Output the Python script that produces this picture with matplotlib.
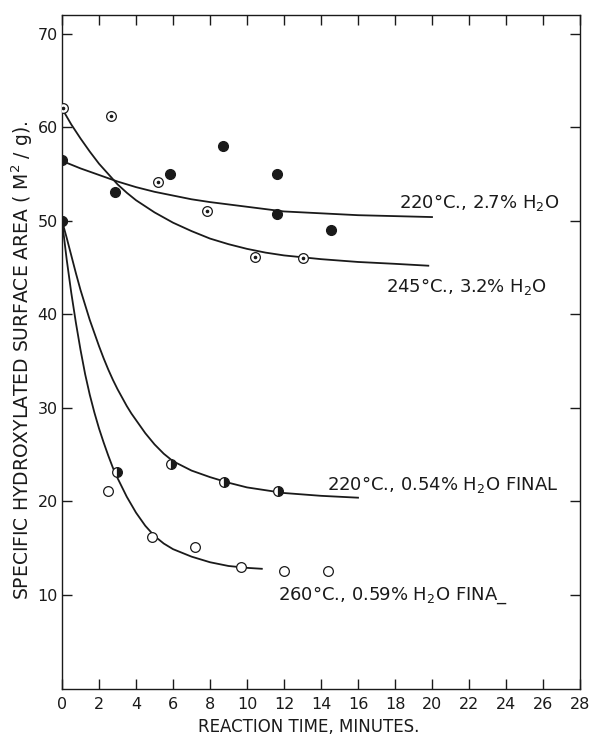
import matplotlib.pyplot as plt

# ========================= DATOS =========================
# puntos medidos: tiempo (min) y area especifica (m2/g)
t_220_27 = [0.0, 2.87, 5.82, 8.71, 11.64, 11.64, 14.53]
a_220_27 = [56.5, 53.1, 55.0, 58.0, 55.0, 50.7, 49.0]

t_245_32 = [0.04, 2.64, 5.19, 7.84, 10.41, 13.05]
a_245_32 = [62.1, 61.2, 54.2, 51.0, 46.1, 46.0]

t_220_054 = [0.0, 2.96, 5.89, 8.74, 11.67]
a_220_054 = [50.0, 23.2, 24.0, 22.1, 21.1]

t_260_059 = [0.0, 2.46, 4.86, 7.17, 9.65, 11.99, 14.38]
a_260_059 = [50.0, 21.1, 16.2, 15.1, 13.0, 12.6, 12.6]

# curvas suavizadas trazadas en la figura
ct_220_27 = [0, 1, 2, 3, 4, 5, 6, 7, 8, 10, 12, 14, 16, 18, 20]
ca_220_27 = [56.4, 55.6, 54.9, 54.2, 53.6, 53.1, 52.7, 52.3, 52.0, 51.5, 51.0, 50.8, 50.6, 50.5, 50.4]

ct_245_32 = [0, 0.5, 1, 1.5, 2, 2.5, 3, 3.5, 4, 5, 6, 7, 8, 9, 10, 11, 12, 14, 16, 18, 19.8]
ca_245_32 = [62.0, 60.3, 58.8, 57.4, 56.1, 55.0, 53.9, 53.0, 52.2, 50.9, 49.8, 48.9, 48.1,
             47.5, 47.0, 46.6, 46.3, 45.9, 45.6, 45.4, 45.2]

ct_220_054 = [0, 0.25, 0.5, 0.75, 1, 1.25, 1.5, 1.75, 2, 2.25, 2.5, 2.75, 3, 3.25, 3.5,
              3.75, 4, 4.5, 5, 5.5, 6, 7, 8, 9, 10, 11, 12, 14, 16]
ca_220_054 = [50.0, 48.2, 46.3, 44.4, 42.6, 41.0, 39.4, 38.0, 36.6, 35.3, 34.1, 33.0, 32.0,
              31.1, 30.2, 29.4, 28.7, 27.3, 26.1, 25.1, 24.3, 23.3, 22.6, 22.0, 21.5, 21.2,
              20.9, 20.6, 20.4]

ct_260_059 = [0, 0.25, 0.5, 0.75, 1, 1.25, 1.5, 1.75, 2, 2.25, 2.5, 2.75, 3, 3.5, 4, 4.5,
              5, 5.5, 6, 7, 8, 9, 10, 10.8]
ca_260_059 = [50.0, 45.9, 42.3, 39.1, 36.2, 33.6, 31.4, 29.5, 27.8, 26.3, 24.9, 23.6, 22.5,
              20.5, 18.8, 17.4, 16.3, 15.5, 14.9, 14.1, 13.5, 13.1, 12.9, 12.8]

labels = ["220°C., 2.7% H$_2$O", "245°C., 3.2% H$_2$O",
          "220°C., 0.54% H$_2$O FINAL", "260°C., 0.59% H$_2$O FINA_"]
label_xy = [(18.2, 52.0), (17.5, 43.0), (14.35, 21.8), (11.7, 10.0)]

xticks = list(range(0, 29, 2))
yticks = list(range(10, 71, 10))

# ========================= FIGURA =========================
ink = "#1a1a1a"
fig = plt.figure(figsize=(5.89, 7.39), dpi=100)
ax = fig.add_axes([0.1053, 0.0683, 0.8794, 0.9114])

# curvas
for ct, ca in [(ct_220_27, ca_220_27), (ct_245_32, ca_245_32),
               (ct_220_054, ca_220_054), (ct_260_059, ca_260_059)]:
    ax.plot(ct, ca, color=ink, lw=1.3, zorder=2)

# puntos
ax.plot(t_260_059, a_260_059, "o", ms=7, mfc="white", mec=ink, mew=0.9, zorder=3)
ax.plot(t_220_054, a_220_054, "o", ms=7, mfc=ink, mfcalt="white", fillstyle="right",
        mec=ink, mew=0.9, zorder=4)
ax.plot(t_245_32, a_245_32, "o", ms=7, mfc="white", mec=ink, mew=0.9, zorder=3)
ax.plot(t_245_32, a_245_32, "o", ms=1.6, color=ink, zorder=4)
ax.plot(t_220_27, a_220_27, "o", ms=7, color=ink, zorder=3)

for txt, (x, y) in zip(labels, label_xy):
    ax.text(x, y, txt, fontsize=13, color=ink, ha="left", va="center")

ax.set_xlim(0, 28)
ax.set_ylim(0, 72)
ax.set_xticks(xticks)
ax.set_yticks(yticks)
ax.tick_params(direction="in", length=7, width=1, colors=ink, labelsize=11.5,
               top=True, right=True)
ax.tick_params(axis="x", pad=6)
ax.tick_params(axis="y", pad=3)
for s in ax.spines.values():
    s.set_color(ink)
    s.set_linewidth(1)

fig.text(0.524, 1 - 727 / 739, "REACTION TIME, MINUTES.", fontsize=12, color=ink,
         ha="center", va="center")
fig.text(0.037, 0.513, "SPECIFIC HYDROXYLATED SURFACE AREA ( M$^2$ / g).", fontsize=13.5,
         color=ink, ha="center", va="center", rotation=90)

fig.savefig("out.png", dpi=100)
